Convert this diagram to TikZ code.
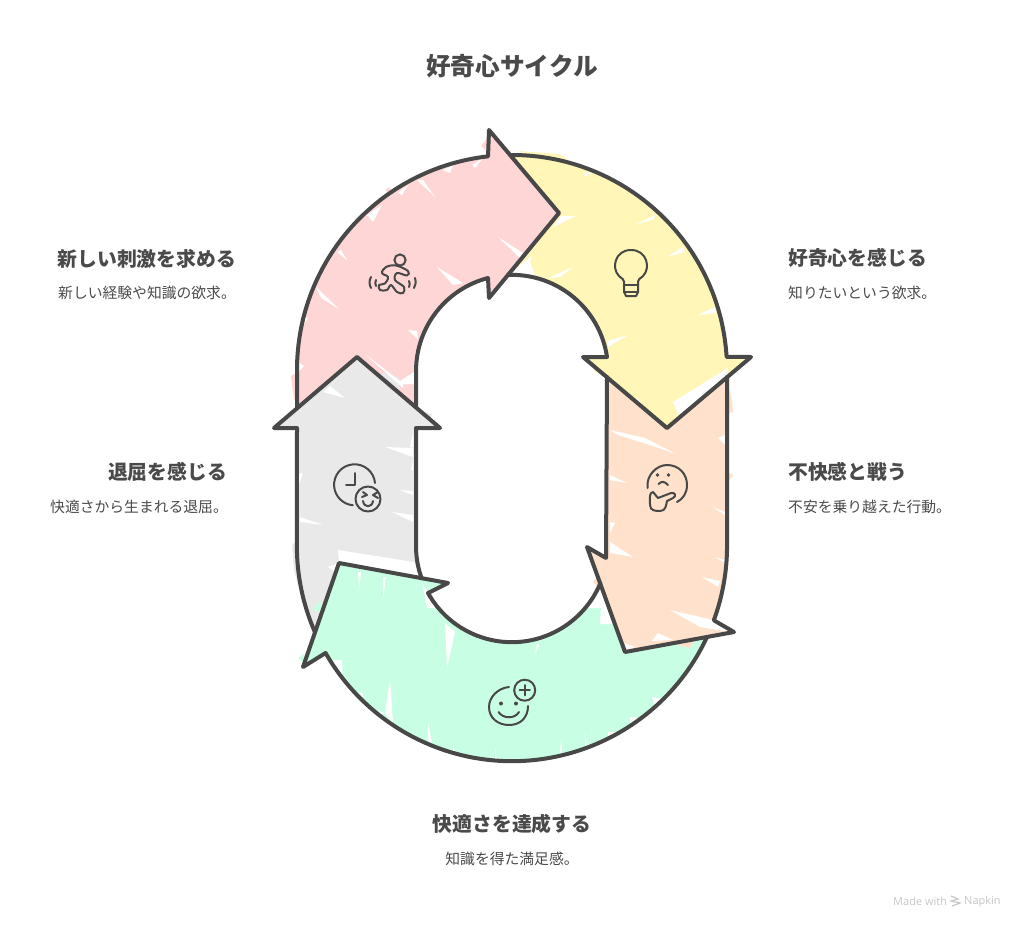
\documentclass[tikz,border=0pt]{standalone}
\usepackage{fontspec}
\setmainfont{Noto Sans CJK JP}
\setsansfont{Open Sans}
\definecolor{ink}{HTML}{484848}
\definecolor{txt}{HTML}{4A4A4A}
\definecolor{pinkf}{HTML}{FFD6D6}
\definecolor{yellowf}{HTML}{FFF6B8}
\definecolor{orangef}{HTML}{FFE1CC}
\definecolor{greyf}{HTML}{E9E9E9}
\definecolor{greenf}{HTML}{C8FFE4}
\definecolor{markgrey}{HTML}{C6C6C6}
\tikzset{
  outline/.style={draw=ink,line width=4pt,line join=round,line cap=round},
  iconline/.style={draw=ink,line width=2pt,line join=round,line cap=round},
  titletext/.style={text=txt,font=\fontsize{24.7}{28}\selectfont\bfseries,inner sep=0pt},
  headtext/.style={text=txt,font=\fontsize{19.8}{24}\selectfont\bfseries,inner sep=0pt},
  subtext/.style={text=txt,font=\fontsize{14.8}{18}\selectfont,inner sep=0pt},
  marktext/.style={text=markgrey,font=\sffamily\fontsize{11}{12}\selectfont,inner sep=0pt},
}
% open outlines, y pointing down, pixel units
\def\pinkpath{(297,408) -- (297,370) arc[start angle=180,end angle=263.6,radius=215] -- (489,130) -- (559,213) -- (489,298) -- (488,278) arc[start angle=255.5,end angle=180,radius=96] -- (416,407)}
\def\yellowpath{(512,155) arc[start angle=270,end angle=356.5,radius=215] -- (751,357) -- (667,428) -- (583,357) -- (607,357) arc[start angle=351.7,end angle=267.6,radius=96]}
\def\orangepath{(607,377) -- (606,558) -- (587,547) -- (625,652) -- (734,632) -- (713.8,620.3) arc[start angle=20.2,end angle=0,radius=215] -- (727,377)}
\def\greenpath{(707,637) arc[start angle=25,end angle=150.2,radius=215] -- (303,667) -- (339,563) -- (448,583) -- (428,593) arc[start angle=150.8,end angle=22.8,radius=96]}
\def\greypath{(315,632.3) arc[start angle=156.3,end angle=180,radius=215] -- (297,428) -- (274,428) -- (357,357) -- (440,428) -- (416,428) -- (416,546) arc[start angle=180,end angle=160.4,radius=96]}
\begin{document}
\begin{tikzpicture}[x=1pt,y=1pt,yscale=-1]
\useasboundingbox (0,0) rectangle (1024,929);
% fills
\fill[pinkf] \pinkpath -- (357,357) -- cycle;
\fill[yellowf] \yellowpath -- (559,213) -- cycle;
\fill[orangef] \orangepath -- (667,428) -- cycle;
\fill[greenf] \greenpath -- (625,652) -- cycle;
\fill[greyf] \greypath -- (339,563) -- cycle;
% colour running past the outlines
\fill[pinkf] (291,376) -- (298,372) -- (298,400) -- (294,400) -- cycle
  (481,146) -- (489,136) -- (505,150) -- (495,160) -- cycle
  (385,190) -- (390,187) -- (392,195) -- cycle;
\fill[yellowf] (518,151) -- (560,154) -- (575,165) -- (540,160) -- cycle
  (595,372) -- (590,360) -- (610,352) -- (612,372) -- cycle;
\fill[orangef] (727,380) -- (732,400) -- (733,412) -- (725,414) -- cycle
  (724,470) -- (733,475) -- (726,485) -- cycle
  (593,582) -- (598,576) -- (600,590) -- cycle
  (670,640) -- (696,638) -- (690,648) -- (680,646) -- cycle;
\fill[greenf] (298,658) -- (304,654) -- (306,664) -- cycle
  (312,610) -- (320,600) -- (322,612) -- cycle;
\fill[greyf] (292,545) -- (298,540) -- (298,585) -- (294,570) -- cycle
  (375,372) -- (398,377) -- (400,390) -- cycle
  (425,412) -- (432,414) -- (430,420) -- cycle;
% gaps in the colour
\fill[white]
  (417,180) -- (435,197) -- (423,180) -- cycle
  (316,287) -- (339,309) -- (321,298) -- cycle
  (498,237) -- (523,253) -- (520,258) -- cycle
  (437,267) -- (463,283) -- (453,285) -- cycle
  (408,330) -- (418,340) -- (417,331) -- cycle
  (337,252) -- (347,260) -- (341,250) -- cycle
  (367,215) -- (373,222) -- (382,205) -- cycle
  (443,170) -- (453,165) -- (450,173) -- cycle
  (472,165) -- (483,158) -- (475,168) -- cycle
  (398,193) -- (408,185) -- (402,195) -- cycle
  (298,362) -- (304,366) -- (298,372) -- cycle
  (299,315) -- (308,318) -- (301,328) -- cycle
  (365,354) -- (400,381) -- (414,372) -- (416,384) -- (403,384) -- (403,388) -- (385,372) -- cycle
  (553,227) -- (576,216) -- (561,216) -- cycle
  (635,225) -- (655,215) -- (654,219) -- cycle
  (667,257) -- (683,247) -- (684,252) -- cycle
  (698,315) -- (715,307) -- (716,313) -- cycle
  (548,278) -- (573,267) -- (560,277) -- cycle
  (608,347) -- (628,335) -- (608,341) -- cycle
  (583,173) -- (595,172) -- (585,176) -- cycle
  (509,274) -- (532,256) -- (530,262) -- (535,275) -- (547,279) -- (525,278) -- cycle
  (673,402) -- (728,368) -- (727,377) -- (680,418) -- cycle
  (637,397) -- (643,407) -- (637,405) -- cycle
  (610,430) -- (645,438) -- (676,454) -- (650,445) -- (618,435) -- cycle
  (610,475) -- (627,483) -- (610,480) -- cycle
  (610,522) -- (615,523) -- (610,533) -- cycle
  (610,542) -- (633,557) -- (610,553) -- cycle
  (713,507) -- (725,512) -- (725,515) -- cycle
  (718,438) -- (725,435) -- (725,445) -- cycle
  (715,557) -- (725,560) -- (725,563) -- cycle
  (702,577) -- (718,587) -- (720,581) -- cycle
  (670,610) -- (700,627) -- (730,632) -- (713,620) -- cycle
  (652,641) -- (658,633) -- (673,640) -- cycle
  (625,643) -- (635,647) -- (627,650) -- cycle
  (385,447) -- (413,457) -- (413,448) -- cycle
  (400,490) -- (413,495) -- (413,491) -- cycle
  (392,512) -- (413,522) -- (413,515) -- cycle
  (300,517) -- (323,525) -- (300,522) -- cycle
  (323,392) -- (345,398) -- (330,386) -- cycle
  (338,550) -- (414,562) -- (422,578) -- (339,563) -- cycle
  (328,567) -- (338,563) -- (335,572) -- cycle
  (413,433) -- (410,447) -- (413,447) -- cycle
  (413,460) -- (411,470) -- (413,470) -- cycle
  (299,474) -- (303,473) -- (299,484) -- cycle
  (358,572) -- (361,572) -- (359,592) -- cycle
  (383,577) -- (386,577) -- (383,600) -- cycle
  (422,582) -- (427,608) -- (440,608) -- (428,593) -- cycle
  (445,623) -- (455,632) -- (447,668) -- cycle
  (390,678) -- (393,723) -- (385,713) -- cycle
  (428,722) -- (432,743) -- (428,742) -- cycle
  (453,743) -- (455,752) -- (453,752) -- cycle
  (495,748) -- (497,760) -- (495,760) -- cycle
  (537,643) -- (535,655) -- (539,645) -- cycle
  (561,737) -- (562,753) -- (560,753) -- cycle
  (585,730) -- (587,747) -- (585,747) -- cycle
  (652,697) -- (663,699) -- (655,707) -- cycle
  (630,717) -- (640,718) -- (630,723) -- cycle
  (608,732) -- (617,732) -- (608,740) -- cycle
  (600,583) -- (580,608) -- (601,608) -- (600,624) -- (614,624) -- cycle
  (330,660) -- (342,660) -- (343,692) -- cycle
  (343,692) -- (363,693) -- (363,707) -- cycle
  (365,707) -- (385,713) -- (370,717) -- cycle;
% outlines
\draw[outline] \yellowpath;
\draw[outline] \orangepath;
\draw[outline] \greenpath;
\draw[outline] \greypath;
\draw[outline] \pinkpath;
% runner icon
\draw[iconline] (400,260) circle[radius=5.6];
\draw[iconline] plot[smooth cycle,tension=0.6] coordinates {(382,273) (386,267) (396,265.5) (408,271) (407,275.5) (397,273) (395,280) (404,287) (403,293) (397,292) (391,285) (387,290) (380,290) (379,285) (385,283.5) (388,277)};
\draw[iconline] (371,277) .. controls (369,281) and (369,284) .. (371,288);
\draw[iconline] (376,280) .. controls (375,282) and (375,284) .. (376,286);
\draw[iconline] (415,278) .. controls (416,282) and (416,285) .. (414,288);
\draw[iconline] (409,281) .. controls (410,283) and (410,285) .. (409,287);
% bulb icon
\draw[iconline] (624,281.5) .. controls (624,279) and (622,279) .. (619,276) .. controls (611,268) and (615,250) .. (631,250) .. controls (647,250) and (651,268) .. (643,276) .. controls (640,279) and (638,279) .. (638,281.5) -- (638,292) -- (636,296) -- (626,296) -- (624,292) -- cycle;
\draw[iconline] (624,285) -- (638,285);
\draw[iconline] (624,292) -- (638,292);
% clock icon
\draw[iconline] (375,483) arc[start angle=-5,end angle=-265,radius=20.5];
\draw[iconline] (355,473) -- (355,485) -- (346,485);
\draw[iconline] (368,499) circle[radius=12.5];
\draw[iconline] (363,492) -- (367,495) -- (362,497);
\draw[iconline] (378,492) -- (373,495) -- (378,498);
\draw[iconline] (363,501) .. controls (364,508) and (372,508) .. (373,501);
% thinking icon
\draw[iconline] (647.5,488) .. controls (646,475) and (657,465) .. (667,465) .. controls (679,465) and (687,474) .. (687,485) .. controls (687,493) and (683,499) .. (677,502);
\fill[ink] (657.5,475) circle[radius=1.9] (668.5,475) circle[radius=1.9];
\draw[iconline] (658.5,484) .. controls (662,481) and (664,481) .. (668,485);
\draw[iconline] (653,492) .. controls (649,493) and (650,497) .. (650,505) .. controls (650,511) and (656,511) .. (660,511) .. controls (666,511) and (666,505) .. (667,501) -- (673,498) .. controls (677,496) and (675,492) .. (671,493) -- (658,498) -- cycle;
% smile plus icon
\draw[iconline] (509,687) .. controls (498,688) and (489,697) .. (489,707) .. controls (489,718) and (498,725) .. (509,725) .. controls (521,725) and (528,717) .. (528,706);
\fill[ink] (501,703.5) circle[radius=2] (516,703.5) circle[radius=2];
\draw[iconline] (498.5,712) .. controls (503,719) and (515,719) .. (519,712);
\draw[iconline] (524.7,690.2) circle[radius=10.5];
\draw[iconline,line width=2.4pt] (519.7,690.2) -- (529.7,690.2) (524.7,685.2) -- (524.7,695.2);
% texts
\node[titletext] (title) at (512,66) {好奇心サイクル};
\node[headtext,anchor=east] (h1) at (236,258.5) {新しい刺激を求める};
\node[subtext,anchor=west] (s1) at (58,293) {新しい経験や知識の欲求。};
\node[headtext,anchor=west] (h2) at (788,258) {好奇心を感じる};
\node[subtext,anchor=west] (s2) at (788,293) {知りたいという欲求。};
\node[headtext,anchor=east] (h3) at (227,472) {退屈を感じる};
\node[subtext,anchor=west] (s3) at (50,507) {快適さから生まれる退屈。};
\node[headtext,anchor=west] (h4) at (788,472) {不快感と戦う};
\node[subtext,anchor=west] (s4) at (788,507) {不安を乗り越えた行動。};
\node[headtext] (h5) at (512,824) {快適さを達成する};
\node[subtext] (s5) at (512,858.5) {知識を得た満足感。};
\node[marktext,anchor=west] (m1) at (893,901.5) {Made with};
\node[marktext,anchor=west] (m2) at (964,901.5) {Napkin};
\draw[markgrey,line width=1.2pt] (951,896) -- (958,899) -- (951,901) -- (960,903) -- (952,906);
\end{tikzpicture}
\end{document}
